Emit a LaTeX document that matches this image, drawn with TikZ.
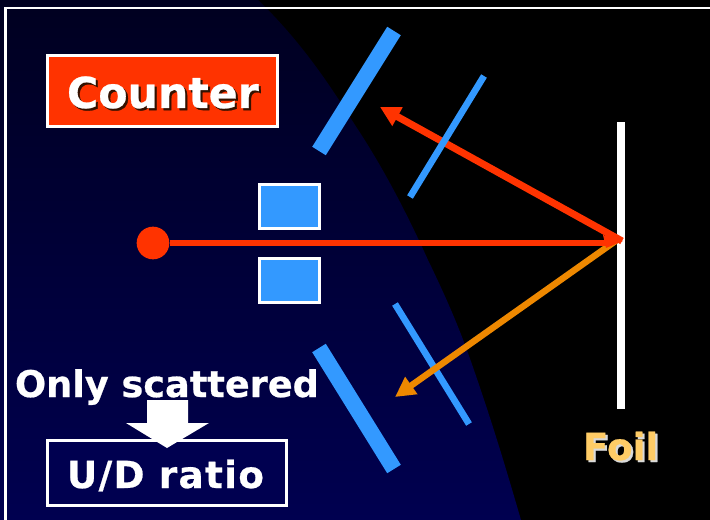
\documentclass[tikz,border=0pt]{standalone}
\usepackage{fontspec}
\setmainfont[BoldFeatures={FakeBold=0.6}]{DejaVu Sans}
\usetikzlibrary{arrows.meta}
\definecolor{cred}{HTML}{FF3300}
\definecolor{cblue}{HTML}{3399FF}
\definecolor{corange}{HTML}{EE8800}
\definecolor{cfoil}{HTML}{FFCC66}
\definecolor{cnavytop}{HTML}{000020}
\definecolor{cnavy}{HTML}{000050}
\definecolor{cshadowbrown}{HTML}{331100}
\newcommand{\shtext}[3]{\leavevmode\rlap{\kern1.6pt\raisebox{-1.6pt}{\textcolor{#1}{#3}}}\textcolor{#2}{#3}}
\tikzset{
  px/.style={x=0.75pt,y=-0.75pt},
  txt/.style={anchor=base west,inner sep=0pt,outer sep=0pt,font=\bfseries},
  whitebox/.style={draw=white,line width=2.2pt},
  det/.style={draw=cblue,line cap=butt},
  thick det/.style={det,line width=12pt},
  thin det/.style={det,line width=5pt},
}
\begin{document}
\begin{tikzpicture}[px]
\useasboundingbox (0,0) rectangle (710,520);
\fill[black] (0,0) rectangle (710,520);
\begin{scope}
\clip (0,0) -- (258,0) .. controls (300,40) and (330,85) .. (355,125)
  .. controls (385,170) and (410,220) .. (428,260)
  .. controls (445,295) and (458,325) .. (468,353)
  .. controls (490,415) and (505,465) .. (521,520) -- (0,520) -- cycle;
\shade[top color=cnavytop,bottom color=cnavy] (0,0) rectangle (710,520);
\end{scope}
\coordinate (fl) at (5.5,522);
\coordinate (fc) at (5.5,8);
\coordinate (fr) at (712,8);
\draw[white,line width=2.1pt] (fl) -- (fc) -- (fr);
% counters
\coordinate (ua) at (394,31);
\coordinate (ub) at (319,151);
\coordinate (la) at (319,348);
\coordinate (lb) at (394,469);
\draw[thick det] (ua) -- (ub);
\draw[thick det] (la) -- (lb);
% blue slits
\node[whitebox,fill=cblue,minimum width=45.2pt,minimum height=33.2pt,inner sep=0pt] (s1) at (289.5,206.5) {};
\node[whitebox,fill=cblue,minimum width=45.2pt,minimum height=33.2pt,inner sep=0pt] (s2) at (289.5,280.5) {};
% source, foil
\coordinate (hit) at (622,241);
\coordinate (hito) at (617,240);
\coordinate (hend) at (612,243);
\node[circle,fill=cred,minimum size=24.5pt,inner sep=0pt] (src) at (153,243) {};
\node[fill=white,minimum width=6pt,minimum height=215pt,inner sep=0pt] (foil) at (621,265.5) {};
% thin detectors and rays
\coordinate (ot) at (395,397);
\coordinate (rt) at (380,107);
\coordinate (l1) at (395,304);
\coordinate (l2) at (469,424);
\coordinate (u1) at (484,76);
\coordinate (u2) at (410,197);
\draw[thin det] (l1) -- (l2);
\draw[corange,line width=4.8pt,-{Triangle[length=15pt,width=15pt]}] (hito) -- (ot);
\draw[cred,line width=5.3pt,-{Triangle[length=15pt,width=15pt]}] (hit) -- (rt);
\draw[thin det] (u1) -- (u2);
\draw[cred,line width=5pt] (src) -- (hend);
\fill[cred] (603,235) -- (623,241) -- (606,248) -- cycle;
% labels
\node[whitebox,fill=cred,minimum width=172.5pt,minimum height=53.3pt,inner sep=0pt] (cnt) at (162.5,91) {};
\node[txt,font=\bfseries\fontsize{32}{32}\selectfont] (cntt) at (67,108) {\shtext{cshadowbrown}{white}{Counter}};
\node[whitebox,fill=cnavy,minimum width=179.5pt,minimum height=49pt,inner sep=0pt] (ud) at (167,473) {};
\node[txt,text=white,font=\bfseries\fontsize{27.5}{28}\selectfont] (only) at (15,397) {Only scattered};
\node[txt,text=white,font=\bfseries\fontsize{28}{28}\selectfont\addfontfeature{LetterSpace=3.5}] (udt) at (67,488) {U/D ratio};
\node[txt,font=\bfseries\fontsize{28}{28}\selectfont] (foilt) at (583,460) {\shtext{white!85!black}{cfoil}{Foil}};
\fill[white] (147,400) -- (188,400) -- (188,423) -- (209,423) -- (167,448) -- (126,423) -- (147,423) -- cycle;
\end{tikzpicture}
\end{document}
